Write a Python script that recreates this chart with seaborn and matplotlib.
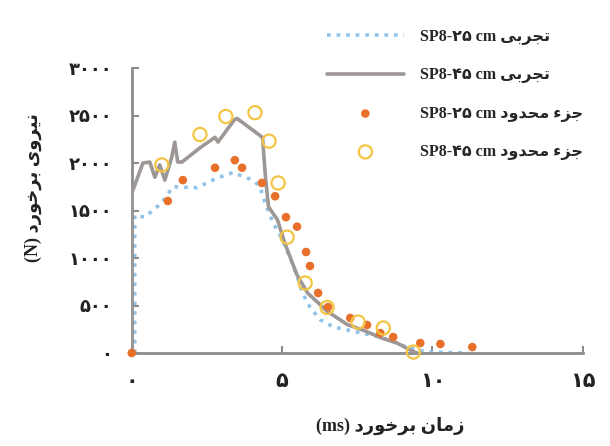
import matplotlib
matplotlib.use("Agg")
import matplotlib.pyplot as plt
import seaborn as sns

# ---------------- data ----------------
# experimental SP8-25 cm (dotted blue)
exp25_t = [0.1, 0.1, 0.43, 1.0, 1.37, 2.17, 2.83, 3.37, 4.03, 4.27, 4.37, 4.7, 5.0, 5.4, 5.7, 5.93, 6.27, 6.7, 7.5, 8.27, 9.0, 9.8, 11.2]
exp25_f = [0, 1450, 1430, 1580, 1750, 1740, 1840, 1900, 1820, 1750, 1640, 1370, 1200, 900, 620, 484, 350, 275, 220, 168, 80, 10, 0]

# experimental SP8-45 cm (grey solid)
exp45_t = [0, 0, 0.37, 0.6, 0.77, 0.93, 1.1, 1.33, 1.43, 1.53, 1.67, 2.27, 2.77, 2.87, 3.4, 3.5, 4.35, 4.45, 4.55, 4.85, 5.1, 5.5, 5.85, 6.5, 7.17, 7.7, 8.3, 8.83, 9.27, 9.5]
exp45_f = [0, 1680, 2000, 2010, 1850, 1980, 1820, 2060, 2220, 2010, 2010, 2160, 2270, 2220, 2450, 2470, 2270, 1850, 1540, 1400, 1150, 820, 632, 440, 300, 240, 160, 105, 30, 0]

# finite element SP8-25 cm (orange dots)
fe25_t = [0, 1.2, 1.7, 2.77, 3.43, 3.67, 4.33, 4.77, 5.13, 5.5, 5.8, 5.93, 6.2, 6.53, 7.27, 7.83, 8.27, 8.7, 9.6, 10.27, 11.33]
fe25_f = [0, 1600, 1820, 1950, 2030, 1950, 1790, 1650, 1430, 1330, 1063, 916, 632, 484, 369, 295, 210, 168, 105, 95, 63]

# finite element SP8-45 cm (yellow open circles)
fe45_t = [1.0, 2.27, 3.13, 4.1, 4.57, 4.87, 5.17, 5.77, 6.5, 7.53, 8.37, 9.37]
fe45_f = [1980, 2300, 2490, 2530, 2230, 1790, 1220, 737, 480, 326, 263, 10]

x_ticks = [0, 5, 10, 15]
x_tick_labels = ["۰", "۵", "۱۰", "۱۵"]
y_ticks = [0, 500, 1000, 1500, 2000, 2500, 3000]
y_tick_labels = ["۰", "۵۰۰", "۱۰۰۰", "۱۵۰۰", "۲۰۰۰", "۲۵۰۰", "۳۰۰۰"]

# ---------------- minimal Persian shaping (matplotlib has no bidi/shaping) -------------
FORMS = {
    "ا": ("\uFE8D", "\uFE8E", None, None),
    "ب": ("\uFE8F", "\uFE90", "\uFE91", "\uFE92"),
    "ت": ("\uFE95", "\uFE96", "\uFE97", "\uFE98"),
    "ج": ("\uFE9D", "\uFE9E", "\uFE9F", "\uFEA0"),
    "ح": ("\uFEA1", "\uFEA2", "\uFEA3", "\uFEA4"),
    "خ": ("\uFEA5", "\uFEA6", "\uFEA7", "\uFEA8"),
    "د": ("\uFEA9", "\uFEAA", None, None),
    "ر": ("\uFEAD", "\uFEAE", None, None),
    "ز": ("\uFEAF", "\uFEB0", None, None),
    "م": ("\uFEE1", "\uFEE2", "\uFEE3", "\uFEE4"),
    "ن": ("\uFEE5", "\uFEE6", "\uFEE7", "\uFEE8"),
    "و": ("\uFEED", "\uFEEE", None, None),
    "ی": ("\uFBFC", "\uFBFD", "\uFBFE", "\uFBFF"),
    "ء": ("\uFE80", None, None, None),
}


def rtl(s):
    out = []
    for i, c in enumerate(s):
        if c not in FORMS:
            out.append(c)
            continue
        iso, fin, ini, med = FORMS[c]
        prev = s[i - 1] if i > 0 else None
        nxt = s[i + 1] if i + 1 < len(s) else None
        jp = (prev in FORMS and FORMS[prev][2] is not None and fin is not None)
        jn = (ini is not None and nxt in FORMS and FORMS[nxt][1] is not None)
        if jp and jn:
            out.append(med)
        elif jp:
            out.append(fin)
        elif jn:
            out.append(ini)
        else:
            out.append(iso)
    return "".join(reversed(out))


lab_exp25 = "SP8-۲۵ cm " + rtl("تجربی")
lab_exp45 = "SP8-۴۵ cm " + rtl("تجربی")
lab_fe25 = "SP8-۲۵ cm " + rtl("جزء محدود")
lab_fe45 = "SP8-۴۵ cm " + rtl("جزء محدود")
x_label = "(ms) " + rtl("زمان برخورد")
y_label = "(N) " + rtl("نیروی برخورد")

# ---------------- plotting ----------------
sns.set_theme(style="white")
plt.rcParams["font.family"] = ["Liberation Serif", "DejaVu Sans"]

fig = plt.figure(figsize=(6.1, 4.46), dpi=100)
ax = fig.add_axes([0.216, 0.2085, 0.739, 0.639])

c_blue = "#8fc3ea"
c_grey = "#9d9795"
c_orange = "#e8702a"
c_yellow = "#f4c542"

sns.lineplot(x=exp25_t, y=exp25_f, ax=ax, color=c_blue, linestyle=":", linewidth=2.6,
             estimator=None, sort=False, label=lab_exp25, zorder=2)
sns.lineplot(x=exp45_t, y=exp45_f, ax=ax, color=c_grey, linewidth=2.6,
             estimator=None, sort=False, label=lab_exp45, zorder=3)
sns.scatterplot(x=fe25_t, y=fe25_f, ax=ax, color=c_orange, s=38, edgecolor="none",
                label=lab_fe25, zorder=4, clip_on=False)
sns.scatterplot(x=fe45_t, y=fe45_f, ax=ax, marker="o", facecolors="none",
                edgecolors=c_yellow, linewidth=1.6, s=90, label=lab_fe45, zorder=5,
                clip_on=False)

ax.set_xlim(0, 15)
ax.set_ylim(0, 3000)
ax.set_xticks(x_ticks)
ax.set_xticklabels(x_tick_labels, fontsize=15, fontweight="bold", color="#222222")
ax.set_yticks(y_ticks)
ax.set_yticklabels(y_tick_labels, fontsize=13, fontweight="bold", color="#222222")
ax.tick_params(axis="both", direction="in", length=5, width=1.5, color="#8c8c8c",
               bottom=True, left=True)
ax.tick_params(axis="x", pad=14)
ax.tick_params(axis="y", pad=14)

for side in ["top", "right"]:
    ax.spines[side].set_visible(False)
for side in ["left", "bottom"]:
    ax.spines[side].set_color("#8c8c8c")
    ax.spines[side].set_linewidth(2)

ax.set_xlabel(x_label, fontsize=13, fontweight="bold", color="#222222")
ax.xaxis.set_label_coords(0.574, -0.225)
ax.set_ylabel(y_label, fontsize=13, fontweight="bold", color="#222222")
ax.yaxis.set_label_coords(-0.20, 0.58)

handles, labels = ax.get_legend_handles_labels()
ax.legend(handles, labels, loc="upper left", bbox_to_anchor=(327 / 610, 1 - 29 / 446),
          bbox_transform=fig.transFigure, frameon=False,
          handlelength=4.8, handletextpad=1.0, labelspacing=1.4, borderpad=0,
          borderaxespad=0, prop={"weight": "bold", "size": 11.5})

fig.savefig("out.png", dpi=100, facecolor="white")
